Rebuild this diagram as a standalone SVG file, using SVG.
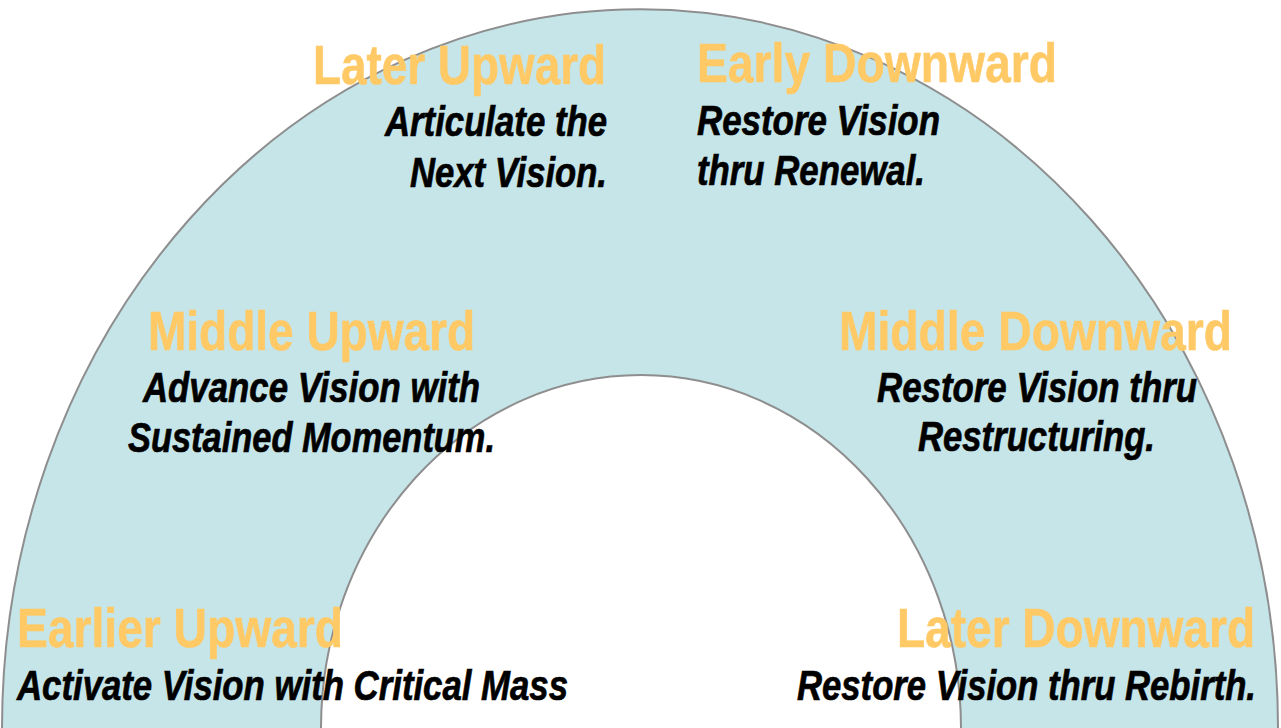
<svg xmlns="http://www.w3.org/2000/svg" width="1281" height="728" viewBox="0 0 1281 728">
  <style>
    .title { font-family: "Liberation Sans", Arial, sans-serif; font-weight: bold; font-size: 56px; fill: #FFC966; stroke: #FFC966; stroke-width: 0.6; }
    .sub { font-family: "Liberation Sans", Arial, sans-serif; font-weight: bold; font-style: italic; font-size: 43px; fill: #000000; stroke: #000000; stroke-width: 0.7; }
    .edge { fill: none; stroke: #8E8E8E; stroke-width: 2; }
  </style>
  <rect x="0" y="0" width="1281" height="728" fill="#FFFFFF"/>
  <g id="arch">
    <path d="M 2 728 A 638 719 0 0 1 1278 728 L 961 728 A 320 353 0 0 0 321 728 Z" fill="#C5E5E9"/>
    <path class="edge" d="M 2 728 A 638 719 0 0 1 1278 728"/>
    <path class="edge" d="M 961 728 A 320 353 0 0 0 321 728"/>
  </g>
  <g id="later-upward">
    <text class="title" x="313" y="84" textLength="293" lengthAdjust="spacingAndGlyphs">Later Upward</text>
    <text class="sub" x="385" y="136" textLength="222" lengthAdjust="spacingAndGlyphs">Articulate the</text>
    <text class="sub" x="410" y="187" textLength="197" lengthAdjust="spacingAndGlyphs">Next Vision.</text>
  </g>
  <g id="early-downward">
    <text class="title" x="697" y="82" textLength="360" lengthAdjust="spacingAndGlyphs">Early Downward</text>
    <text class="sub" x="697" y="135" textLength="243" lengthAdjust="spacingAndGlyphs">Restore Vision</text>
    <text class="sub" x="697" y="185" textLength="228" lengthAdjust="spacingAndGlyphs">thru Renewal.</text>
  </g>
  <g id="middle-upward">
    <text class="title" x="148" y="350" textLength="327" lengthAdjust="spacingAndGlyphs">Middle Upward</text>
    <text class="sub" x="143" y="402" textLength="337" lengthAdjust="spacingAndGlyphs">Advance Vision with</text>
    <text class="sub" x="128" y="452" textLength="367" lengthAdjust="spacingAndGlyphs">Sustained Momentum.</text>
  </g>
  <g id="middle-downward">
    <text class="title" x="839" y="350" textLength="393" lengthAdjust="spacingAndGlyphs">Middle Downward</text>
    <text class="sub" x="877" y="402" textLength="320" lengthAdjust="spacingAndGlyphs">Restore Vision thru</text>
    <text class="sub" x="918" y="451" textLength="237" lengthAdjust="spacingAndGlyphs">Restructuring.</text>
  </g>
  <g id="earlier-upward">
    <text class="title" x="17" y="647" textLength="326" lengthAdjust="spacingAndGlyphs">Earlier Upward</text>
    <text class="sub" x="17" y="700" textLength="551" lengthAdjust="spacingAndGlyphs">Activate Vision with Critical Mass</text>
  </g>
  <g id="later-downward">
    <text class="title" x="897" y="647" textLength="358" lengthAdjust="spacingAndGlyphs">Later Downward</text>
    <text class="sub" x="797" y="700" textLength="459" lengthAdjust="spacingAndGlyphs">Restore Vision thru Rebirth.</text>
  </g>
</svg>
